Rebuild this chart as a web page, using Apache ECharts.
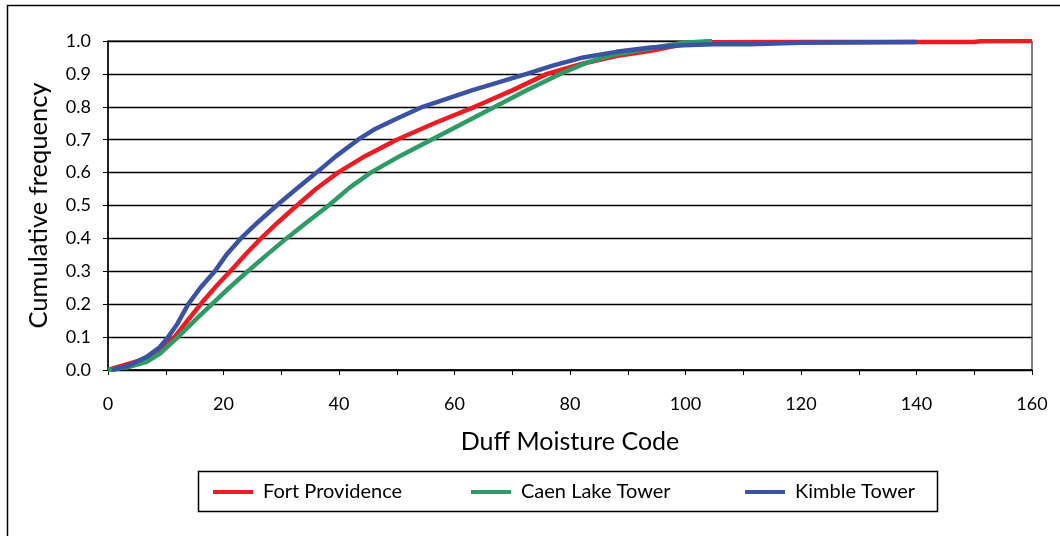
<!DOCTYPE html>
<html>
<head>
<meta charset="utf-8">
<script src="https://cdn.jsdelivr.net/npm/echarts@6/dist/echarts.min.js"></script>
<style>
html,body{margin:0;padding:0;background:#fff;}
#chart{width:1060px;height:536px;}
</style>
</head>
<body>
<div id="chart"></div>
<script>
// Series names
const seriesNames = ['Fort Providence', 'Caen Lake Tower', 'Kimble Tower'];
const seriesColors = ['#ed1c24', '#2e9a66', '#3a52a3'];

// Fort Providence: Duff Moisture Code vs cumulative frequency
const fortDMC  = [0, 3.8, 6.7, 9, 11.5, 14, 16.5, 19, 21.7, 24, 26.5, 29.5, 32.7, 36, 39.8, 44.5, 50, 56.5, 63.5, 70, 76, 82, 88, 94, 99.6, 105, 120, 150, 151, 160];
const fortCF   = [0, 0.02, 0.035, 0.065, 0.1, 0.155, 0.21, 0.26, 0.31, 0.355, 0.4, 0.45, 0.5, 0.55, 0.6, 0.65, 0.7, 0.75, 0.8, 0.85, 0.9, 0.93, 0.954, 0.97, 0.99, 0.996, 0.997, 0.997, 0.999, 1.0];

// Caen Lake Tower
const caenDMC  = [0, 3.8, 6.7, 9, 12.1, 15, 18, 21, 24.2, 27.5, 30.9, 34.5, 38.2, 41.9, 45.5, 50.5, 56, 61.5, 67, 72.5, 78.3, 83, 88, 94, 99.6, 104.6];
const caenCF   = [0, 0.01, 0.025, 0.05, 0.1, 0.15, 0.2, 0.25, 0.3, 0.35, 0.4, 0.45, 0.5, 0.555, 0.6, 0.65, 0.7, 0.75, 0.8, 0.85, 0.9, 0.935, 0.96, 0.978, 0.995, 1.0];

// Kimble Tower
const kimbleDMC = [0.7, 3.8, 6.7, 9, 10.4, 12, 13.9, 16, 18.5, 20.5, 23, 26, 29.2, 32.6, 36.1, 39.5, 43.3, 46, 49.5, 54.5, 63, 72.5, 77, 82.3, 88, 94, 99.6, 105, 111, 120, 140];
const kimbleCF  = [0, 0.015, 0.04, 0.07, 0.1, 0.14, 0.2, 0.25, 0.3, 0.35, 0.4, 0.45, 0.5, 0.55, 0.6, 0.65, 0.7, 0.73, 0.76, 0.8, 0.85, 0.9, 0.925, 0.95, 0.967, 0.98, 0.987, 0.99, 0.99, 0.995, 0.997];

// Axis labels
const xTitle = 'Duff Moisture Code';
const yTitle = 'Cumulative frequency';

const pair = (xs, ys) => xs.map((x, i) => [x, ys[i]]);
const seriesData = [pair(fortDMC, fortCF), pair(caenDMC, caenCF), pair(kimbleDMC, kimbleCF)];

const FONT = 'Lato';
const chart = echarts.init(document.getElementById('chart'), null, {renderer: 'canvas'});

const legendLefts = [213, 471, 745];

chart.setOption({
  animation: false,
  backgroundColor: '#fff',
  textStyle: {fontFamily: FONT, color: '#000'},
  grid: {left: 108, right: 28, top: 41, bottom: 166, show: true, borderColor: '#000', borderWidth: 1, backgroundColor: 'transparent'},
  xAxis: {
    type: 'value', min: 0, max: 160, interval: 10,
    name: xTitle, nameLocation: 'middle', nameGap: 59,
    nameTextStyle: {fontFamily: FONT, fontSize: 25, color: '#000'},
    axisLine: {show: true, lineStyle: {color: '#000', width: 1.5}},
    axisTick: {show: true, length: 5, lineStyle: {color: '#000', width: 1}},
    axisLabel: {margin: 25, fontFamily: FONT, fontSize: 18, color: '#000',
      formatter: v => (v % 20 === 0 ? String(v) : '')},
    splitLine: {show: false}
  },
  yAxis: {
    type: 'value', min: 0, max: 1, interval: 0.1,
    name: yTitle, nameLocation: 'middle', nameGap: 56, nameRotate: 90,
    nameTextStyle: {fontFamily: FONT, fontSize: 25.5, color: '#000'},
    axisLine: {show: true, lineStyle: {color: '#000', width: 1.5}},
    axisTick: {show: true, length: 5, lineStyle: {color: '#000', width: 1}},
    axisLabel: {margin: 17, fontFamily: FONT, fontSize: 18, color: '#000',
      formatter: v => v.toFixed(1)},
    splitLine: {show: true, lineStyle: {color: '#000', width: 1.3}}
  },
  legend: seriesNames.map((n, i) => ({
    data: [n], left: legendLefts[i], top: 482, padding: 0,
    icon: 'rect', itemWidth: 40, itemHeight: 4, itemGap: 10,
    textStyle: {fontFamily: FONT, fontSize: 20, color: '#000', padding: [0, 0, 0, 5]}
  })),
  graphic: [
    {type: 'rect', shape: {x: 7.5, y: 5.5, width: 1200, height: 700}, style: {fill: 'none', stroke: '#000', lineWidth: 1.5}, silent: true},
    {type: 'rect', shape: {x: 198.5, y: 471.5, width: 739, height: 40}, style: {fill: 'none', stroke: '#000', lineWidth: 1.5}, silent: true}
  ],
  series: seriesNames.map((n, i) => ({
    name: n, type: 'line', data: seriesData[i],
    showSymbol: false, symbol: 'none', smooth: false,
    color: seriesColors[i],
    lineStyle: {color: seriesColors[i], width: 4.5},
    z: 2 + i
  }))
});
</script>
</body>
</html>
